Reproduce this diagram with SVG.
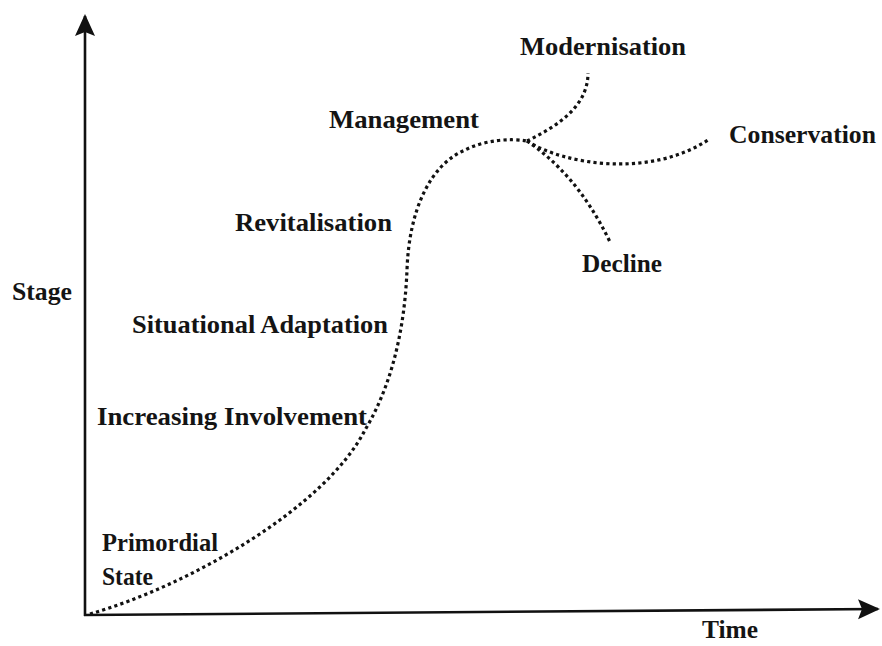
<svg xmlns="http://www.w3.org/2000/svg" width="882" height="646" viewBox="0 0 882 646">
<style>
.lbl{font-family:"Liberation Serif","DejaVu Serif",serif;font-size:25px;font-weight:bold;fill:#141414;}
.axis{stroke:#111;stroke-width:2.6;fill:none;}
.dot{stroke:#111;stroke-width:3.2;fill:none;stroke-dasharray:3.2 3.2;}
</style>
<defs>
<marker id="ah" markerUnits="userSpaceOnUse" markerWidth="24" markerHeight="22" refX="20" refY="10" orient="auto">
<path d="M0,0 L22,10 L0,20 L4,10 z" fill="#111"/>
</marker>
</defs>
<rect width="882" height="646" fill="#fff"/>
<g id="axes">
<line class="axis" x1="85" y1="616" x2="85" y2="16" marker-end="url(#ah)"/>
<line class="axis" x1="84" y1="615" x2="878" y2="609" marker-end="url(#ah)"/>
</g>
<g id="connectors">
<path class="dot" d="M90,614 C190,585 325,508 365,430 C395,380 405,320 407,270 C409,210 430,165 465,150 C485,140 510,138 527,141"/>
<path class="dot" d="M527,141 C560,125 588,105 588,73"/>
<path class="dot" d="M527,141 C565,165 650,178 708,140"/>
<path class="dot" d="M527,141 C555,160 585,190 610,242"/>
</g>
<g id="n-modernisation"><text class="lbl" x="520" y="55" textLength="166" lengthAdjust="spacingAndGlyphs">Modernisation</text></g>
<g id="n-management"><text class="lbl" x="329" y="128" textLength="150" lengthAdjust="spacingAndGlyphs">Management</text></g>
<g id="n-conservation"><text class="lbl" x="729" y="143" textLength="147" lengthAdjust="spacingAndGlyphs">Conservation</text></g>
<g id="n-revitalisation"><text class="lbl" x="235" y="231" textLength="157" lengthAdjust="spacingAndGlyphs">Revitalisation</text></g>
<g id="n-decline"><text class="lbl" x="582" y="272" textLength="80" lengthAdjust="spacingAndGlyphs">Decline</text></g>
<g id="n-stage"><text class="lbl" x="12" y="300" textLength="60" lengthAdjust="spacingAndGlyphs">Stage</text></g>
<g id="n-situational"><text class="lbl" x="132" y="333" textLength="256" lengthAdjust="spacingAndGlyphs">Situational Adaptation</text></g>
<g id="n-increasing"><text class="lbl" x="97" y="425" textLength="270" lengthAdjust="spacingAndGlyphs">Increasing Involvement</text></g>
<g id="n-primordial"><text class="lbl" x="102" y="551" textLength="116" lengthAdjust="spacingAndGlyphs">Primordial</text><text class="lbl" x="102" y="585" textLength="51" lengthAdjust="spacingAndGlyphs">State</text></g>
<g id="n-time"><text class="lbl" x="702" y="638" textLength="56" lengthAdjust="spacingAndGlyphs">Time</text></g>
</svg>
